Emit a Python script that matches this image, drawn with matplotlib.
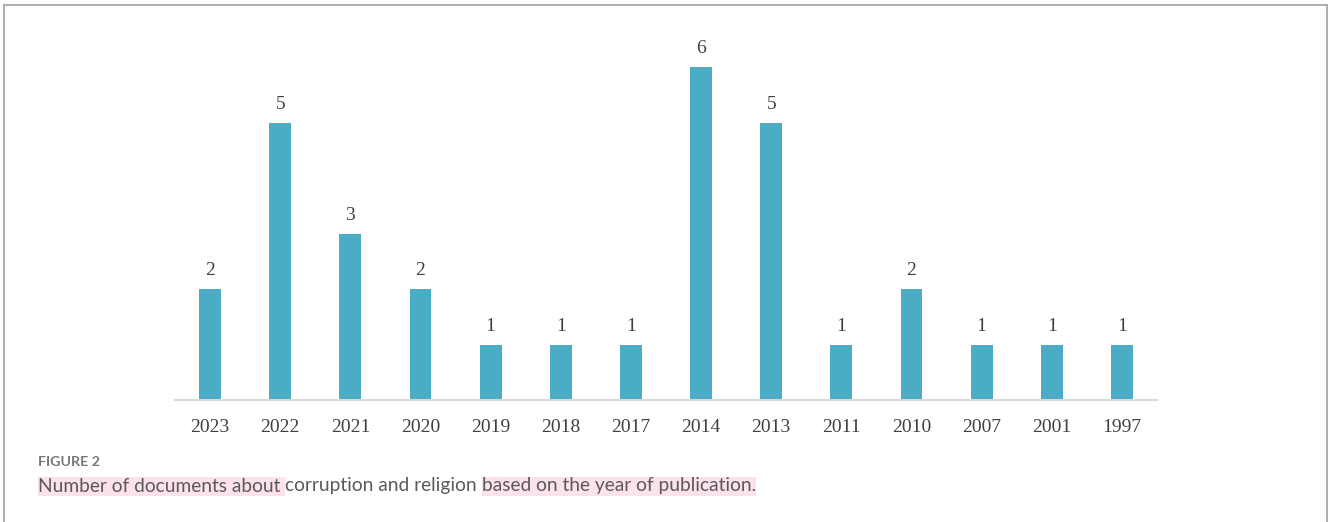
import matplotlib
matplotlib.use("Agg")
import matplotlib.pyplot as plt
from matplotlib.lines import Line2D
from matplotlib.patches import Rectangle

years = ["2023", "2022", "2021", "2020", "2019", "2018", "2017",
         "2014", "2013", "2011", "2010", "2007", "2001", "1997"]
counts = [2, 5, 3, 2, 1, 1, 1, 6, 5, 1, 2, 1, 1, 1]

caption_label = "FIGURE 2"
caption_parts = [("Number of documents about ", True),
                 ("corruption and religion ", False),
                 ("based on the year of publication.", True)]

W, H = 1328, 522
fig = plt.figure(figsize=(W / 100, H / 100), dpi=100)

# axes in pixel layout
left, right, base, unit = 175, 1157, 400, 55.5
ytop = 6.6
ax = fig.add_axes([left / W, (H - base) / H, (right - left) / W, ytop * unit / H])
x = list(range(len(years)))
bars = ax.bar(x, counts, width=0.31, color="#4BACC6", zorder=2)
ax.set_xlim(-0.5, len(years) - 0.5)
ax.set_ylim(0, ytop)
for s in ["top", "right", "left"]:
    ax.spines[s].set_visible(False)
ax.spines["bottom"].set_color("#d9d9d9")
ax.spines["bottom"].set_linewidth(1.5)
ax.set_yticks([])
ax.set_xticks(x)
ax.set_xticklabels(years, fontfamily="Liberation Serif", fontsize=14, color="#404040")
ax.tick_params(axis="x", length=0, pad=14)
for xi, v in zip(x, counts):
    ax.annotate(str(v), (xi, v), xytext=(0, 7), textcoords="offset points",
                ha="center", va="bottom", fontfamily="Liberation Serif",
                fontsize=14, color="#404040")

# frame around figure (no bottom)
frame_c = "#a8a8a8"
fig.add_artist(Line2D([4 / W, 4 / W], [0, (H - 5) / H], color=frame_c, lw=1.3, transform=fig.transFigure))
fig.add_artist(Line2D([4 / W, 1327 / W], [(H - 5) / H, (H - 5) / H], color=frame_c, lw=1.3, transform=fig.transFigure))
fig.add_artist(Line2D([1327 / W, 1327 / W], [0, (H - 5) / H], color=frame_c, lw=1.3, transform=fig.transFigure))

# caption
fig.text(38 / W, (H - 462) / H, caption_label, fontfamily="Lato", fontweight="bold",
         fontsize=10.3, color="#777777", va="center", ha="left")

renderer = fig.canvas.get_renderer()
full = "".join(p for p, _ in caption_parts)
probe = fig.text(0, 0, full, fontfamily="Lato", fontsize=12)
wfull = probe.get_window_extent(renderer).width
probe.remove()
fs = 12 * (757 - 38) / wfull

xpos = 38
yc = H - 486
for txt, hl in caption_parts:
    t = fig.text(xpos / W, yc / H, txt, fontfamily="Lato", fontsize=fs,
                 color="#5a5a5a", va="center", ha="left", zorder=3)
    bb = t.get_window_extent(renderer)
    if hl:
        fig.add_artist(Rectangle((bb.x0 / W, (H - 496) / H), bb.width / W, 19 / H,
                                 transform=fig.transFigure, facecolor="#fde2ea",
                                 edgecolor="none", zorder=1))
    xpos = bb.x1

fig.savefig("out.png", dpi=100)
